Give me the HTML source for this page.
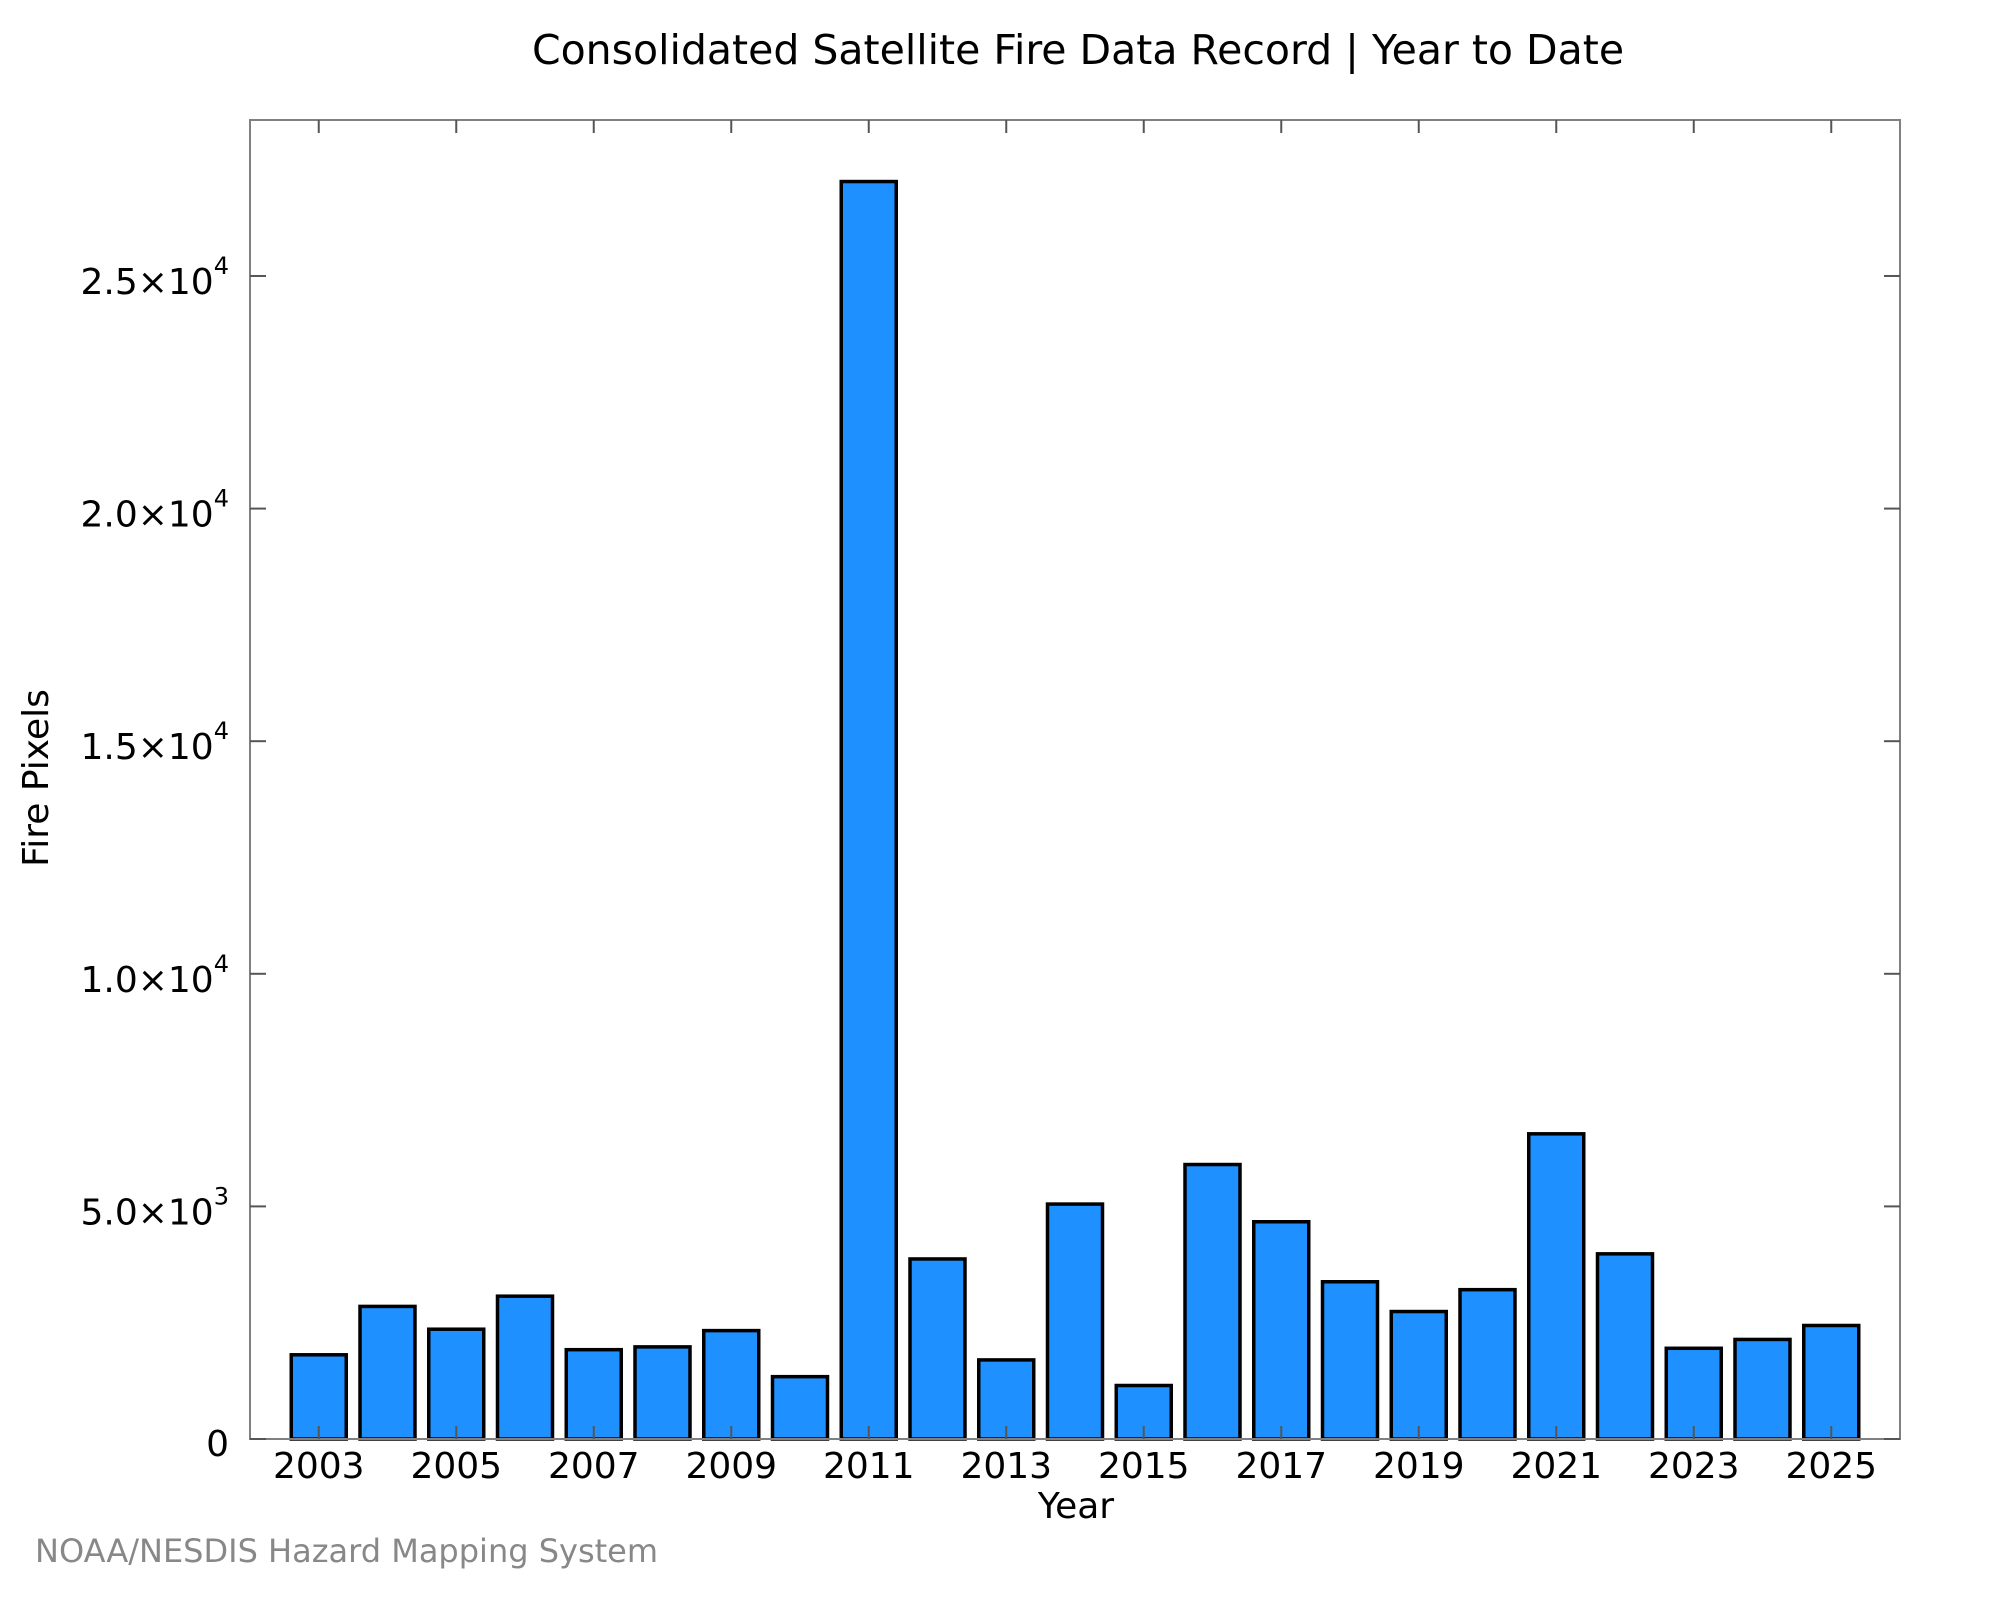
<!DOCTYPE html>
<html><head><meta charset="utf-8">
<style>
html,body{margin:0;padding:0;background:#fff;}
svg{display:block;font-family:"DejaVu Sans","Liberation Sans",sans-serif;}
</style></head>
<body>
<svg id="chart" width="2000" height="1600" viewBox="0 0 2000 1600" xmlns="http://www.w3.org/2000/svg">
  <rect x="0" y="0" width="2000" height="1600" fill="#fff"/>
  <text x="1078" y="64" font-size="41" text-anchor="middle" fill="#000">Consolidated Satellite Fire Data Record | Year to Date</text>
  <g id="bars"></g>
  <g id="axes"></g>
  <text x="1076" y="1518" font-size="36" text-anchor="middle" fill="#000">Year</text>
  <text x="0" y="0" font-size="36" text-anchor="middle" fill="#000" transform="translate(48,778) rotate(-90)">Fire Pixels</text>
  <text x="35" y="1562" font-size="32" fill="#888">NOAA/NESDIS Hazard Mapping System</text>
</svg>
<script>
const years = [2003,2004,2005,2006,2007,2008,2009,2010,2011,2012,2013,2014,2015,2016,2017,2018,2019,2020,2021,2022,2023,2024,2025];
const firePixels = [1810,2850,2360,3070,1920,1980,2330,1340,27030,3870,1700,5050,1150,5900,4670,3380,2740,3210,6560,3980,1950,2140,2440];
const yTicks = [0,5000,10000,15000,20000,25000];
const yTickMantissa = ["0","5.0","1.0","1.5","2.0","2.5"];
const yTickExp = ["","3","4","4","4","4"];
const xTickYears = [2003,2005,2007,2009,2011,2013,2015,2017,2019,2021,2023,2025];

const L=250,R=1900,T=120,B=1439;
const xMin=2002,xMax=2026,yMax=28353;
const NS="http://www.w3.org/2000/svg";
function xs(v){return L+(v-xMin)/(xMax-xMin)*(R-L);}
function ys(v){return B-v/yMax*(B-T);}
const step=xs(2004)-xs(2003), bw=step*0.8;
function mk(tag,attrs,parent){const e=document.createElementNS(NS,tag);for(const k in attrs)e.setAttribute(k,attrs[k]);parent.appendChild(e);return e;}
const barsG=document.getElementById('bars'), axesG=document.getElementById('axes');

years.forEach((yr,i)=>{
  const r=mk('rect',{x:xs(yr)-bw/2,y:ys(firePixels[i]),width:bw,height:ys(0)-ys(firePixels[i]),fill:'#1E90FF',stroke:'#000','stroke-width':3.5},barsG);
  
  
});

const frame=mk('rect',{x:L,y:T,width:R-L,height:B-T,fill:'none',stroke:'#808080','stroke-width':2},axesG);



yTicks.forEach((v,i)=>{
  const y=ys(v);
  const t1=mk('line',{x1:L,x2:L+16,y1:y,y2:y,stroke:'#555','stroke-width':2},axesG);
  
  
  const t2=mk('line',{x1:R-16,x2:R,y1:y,y2:y,stroke:'#555','stroke-width':2},axesG);
  
  
  const tx=mk('text',{x:229,y:y+(yTickExp[i]?18:17),'font-size':36,'text-anchor':'end',fill:'#000'},axesG);
  
  
  if(yTickExp[i]){
    const a=document.createElementNS(NS,'tspan');a.textContent=yTickMantissa[i]+'×10';tx.appendChild(a);
    const b=document.createElementNS(NS,'tspan');b.setAttribute('font-size','24');b.setAttribute('dy','-20');b.textContent=yTickExp[i];tx.appendChild(b);
  } else tx.textContent=yTickMantissa[i];
});

xTickYears.forEach(yr=>{
  const x=xs(yr);
  const b=mk('line',{x1:x,x2:x,y1:B,y2:B-13,stroke:'#555','stroke-width':2},axesG);
  
  
  const t=mk('line',{x1:x,x2:x,y1:T,y2:T+13,stroke:'#555','stroke-width':2},axesG);
  
  
  const tx=mk('text',{x:x,y:1478,'font-size':36,'text-anchor':'middle',fill:'#000'},axesG);
  
  
  tx.textContent=String(yr);
});
</script>
</body></html>
